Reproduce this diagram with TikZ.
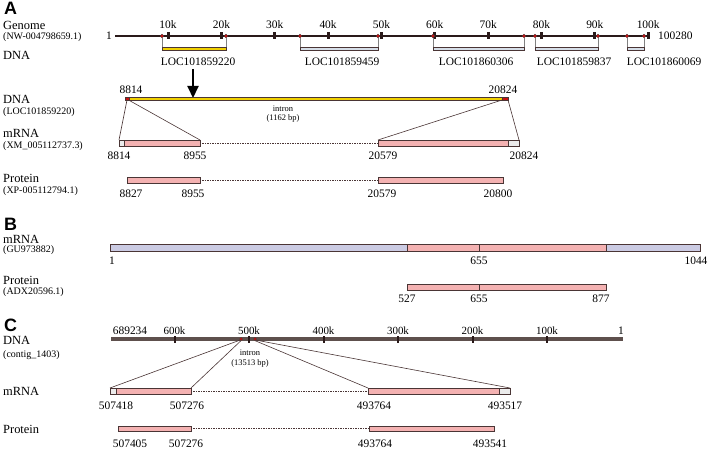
\documentclass[tikz,border=0pt]{standalone}
\usepackage{fontspec}
\setmainfont{Liberation Serif}
\newfontfamily\panelfont{Liberation Sans}
\usetikzlibrary{arrows.meta}

\definecolor{cdspink}{HTML}{F4B2B2}
\definecolor{utrgray}{HTML}{ECECEC}
\definecolor{utrblue}{HTML}{CBCBE3}
\definecolor{geneyellow}{HTML}{F0D000}
\definecolor{genegray}{HTML}{D6DEE8}
\definecolor{barline}{HTML}{4A3535}
\definecolor{chrom}{HTML}{2A1A1A}
\definecolor{contig}{HTML}{5E504D}
\definecolor{exonred}{HTML}{C81010}

\begin{document}
\begin{tikzpicture}[
		x=1bp, y=-1bp,
		every node/.style={inner sep=0pt, font=\fontsize{11.5}{12}\selectfont},
		lab/.style={anchor=base west, font=\fontsize{12.5}{13}\selectfont},
		acc/.style={anchor=base west, font=\fontsize{10}{11}\selectfont},
		num/.style={anchor=base},
		small/.style={anchor=base, font=\fontsize{8.5}{9}\selectfont},
		panel/.style={anchor=base west, font=\panelfont\bfseries\fontsize{18}{18}\selectfont},
		bar/.style={draw=barline, line width=0.7pt},
		cds/.style={bar, fill=cdspink},
		utr/.style={bar, fill=utrgray},
		utrb/.style={bar, fill=utrblue},
		gap/.style={draw=barline, line width=0.6pt, dash pattern=on 1.5pt off 1pt},
		link/.style={draw=barline, line width=0.6pt},
		exon/.style={circle, fill=exonred, draw=barline, line width=0.3pt, minimum size=3.6bp},
		gtick/.style={fill=chrom, minimum width=3bp, minimum height=7bp},
		ctick/.style={fill=chrom, minimum width=2bp, minimum height=7bp}
	]
  \useasboundingbox (0,0) rectangle (709,449);

  \node (pa) [panel] at (4,15) {A};
  \node (genome) [lab] at (3,30) {Genome};
  \node (nw) [acc] at (3,40) {(NW-004798659.1)};
  \node (dna1) [lab] at (3,60) {DNA};

  \coordinate (g0) at (115,36);
  \coordinate (gend) at (649.6,36);
  \draw [chrom, line width=3pt] (g0) -- (gend);
  \node (gone) [anchor=base east] at (112,40) {1};
  \node (glen) [anchor=base west] at (658,40) {100280};
  \foreach \k in {1,...,10} {
    \node (gk\k) [gtick] at (114.7+53.35*\k,36) {};
    \node (gl\k) [num] at (114.7+53.35*\k,29) {\k0k};
  }
  \foreach \a/\b/\col/\lx/\gene in {162/226/geneyellow/198/LOC101859220,
      300/378/genegray/342/LOC101859459, 433/524/genegray/476/LOC101860306,
      535/598/genegray/574/LOC101859837, 627/644/genegray/664/LOC101860069} {
    \coordinate (\gene c) at (\a,49);
    \coordinate (\gene d) at (\b,49);
    \node (\gene a) [exon] at (\a,36) {};
    \node (\gene b) [exon] at (\b,36) {};
    \draw [gray, line width=0.6pt] (\gene a) -- (\gene c);
    \draw [gray, line width=0.6pt] (\gene b) -- (\gene d);
    \filldraw [fill=\col, draw=barline, line width=0.4pt] (\a,47.7) rectangle (\b,50.5);
    \node (\gene) [num] at (\lx,66) {\gene};
  }

  \coordinate (arrtop) at (193,69);
  \coordinate (arrtip) at (193,98);
  \draw [-{Triangle[width=11bp,length=12bp]}, line width=2pt] (arrtop) -- (arrtip);

  \node (dna2) [lab] at (3,104) {DNA};
  \node (loc) [acc] at (3,115) {(LOC101859220)};
  \filldraw [fill=geneyellow, draw=barline, line width=0.5pt] (127,97.6) rectangle (502,100.4);
  \filldraw [fill=exonred, draw=barline, line width=0.4pt] (502,97.6) rectangle (508,100.4);
  \filldraw [fill=exonred, draw=barline, line width=0.4pt] (125.5,97.6) rectangle (129,100.4);
  \node (d1s) [num] at (131,94) {8814};
  \node (d1e) [num] at (503,94) {20824};
  \node (in1) [small] at (283,112) {intron};
  \node (in1bp) [small] at (283,121) {(1162 bp)};

  \coordinate (e1l) at (127,100);
  \coordinate (e1r) at (128.5,100);
  \coordinate (e2l) at (502,100);
  \coordinate (e2r) at (508,100);
  \coordinate (m1l) at (119,140);
  \coordinate (m1r) at (200,140);
  \coordinate (m2l) at (378,140);
  \coordinate (m2r) at (519,140);
  \draw [link] (e1l) -- (m1l);
  \draw [link] (e1r) -- (m1r);
  \draw [link] (e2l) -- (m2l);
  \draw [link] (e2r) -- (m2r);

  \node (mrna1) [lab] at (3,138) {mRNA};
  \node (xm) [acc] at (3,149) {(XM\_005112737.3)};
  \draw [gap] (200,143) -- (378,143);
  \draw [utr] (119,140) rectangle (124,146);
  \draw [cds] (124,140) rectangle (200,146);
  \draw [cds] (378,140) rectangle (508,146);
  \draw [utr] (508,140) rectangle (519,146);
  \foreach \x/\t [count=\i] in {119/8814, 195/8955, 383/20579, 524/20824}
    \node (ma\i) [num] at (\x,160) {\t};

  \node (prot1) [lab] at (3,183) {Protein};
  \node (xp) [acc] at (3,194) {(XP-005112794.1)};
  \draw [gap] (200,180) -- (378,180);
  \draw [cds] (127,177) rectangle (200,183);
  \draw [cds] (378,177) rectangle (503,183);
  \foreach \x/\t [count=\i] in {131/8827, 193/8955, 382/20579, 498/20800}
    \node (pa\i) [num] at (\x,198) {\t};

  \node (pb) [panel] at (4,231) {B};
  \node (mrna2) [lab] at (3,244) {mRNA};
  \node (gu) [acc] at (3,253) {(GU973882)};
  \draw [utrb] (110,244) rectangle (407,251);
  \draw [cds] (407,244) rectangle (479,251);
  \draw [cds] (479,244) rectangle (606,251);
  \draw [utrb] (606,244) rectangle (700,251);
  \foreach \x/\t [count=\i] in {112/1, 479/655, 696/1044}
    \node (mb\i) [num] at (\x,265) {\t};

  \node (prot2) [lab] at (3,285) {Protein};
  \node (adx) [acc] at (3,295) {(ADX20596.1)};
  \draw [cds] (407,284) rectangle (479,290);
  \draw [cds] (479,284) rectangle (606,290);
  \foreach \x/\t [count=\i] in {407/527, 479/655, 601/877}
    \node (pb\i) [num] at (\x,303) {\t};

  \node (pc) [panel] at (4,332) {C};
  \node (dna3) [lab] at (3,345) {DNA};
  \node (contig) [acc] at (3,357) {(contig\_1403)};
  \coordinate (c0) at (111,339);
  \coordinate (cend) at (623,339);
  \draw [contig, line width=4pt] (c0) -- (cend);
  \node (cl0) [num] at (130,335) {689234};
  \node (clend) [num] at (621,335) {1};
  \foreach \k in {1,...,6} {
    \node (ck\k) [ctick] at (621.5-74.5*\k,339) {};
    \node (cl\k) [num, font=\fontsize{11}{11}\selectfont] at (621.5-74.5*\k,335) {\k00k};
  }
  \node (cx1) [exon, minimum size=3bp] at (241,339) {};
  \node (cx2) [exon, minimum size=3bp] at (255,339) {};
  \node (in2) [small] at (250,355) {intron};
  \node (in2bp) [small] at (250,365) {(13513 bp)};

  \coordinate (n1l) at (110,388);
  \coordinate (n1r) at (191,388);
  \coordinate (n2l) at (368,388);
  \coordinate (n2r) at (510,388);
  \draw [link] (cx1.south west) -- (n1l);
  \draw [link] (cx1.south) -- (n1r);
  \draw [link] (cx2.south) -- (n2l);
  \draw [link] (cx2.south east) -- (n2r);

  \node (mrna3) [lab] at (3,395) {mRNA};
  \draw [gap] (191,391) -- (368,391);
  \draw [utr] (110,388) rectangle (116,394);
  \draw [cds] (116,388) rectangle (191,394);
  \draw [cds] (368,388) rectangle (499,394);
  \draw [utr] (499,388) rectangle (510,394);
  \foreach \x/\t [count=\i] in {116/507418, 187/507276, 374/493764, 505/493517}
    \node (mc\i) [num] at (\x,409) {\t};

  \node (prot3) [lab] at (3,433) {Protein};
  \draw [gap] (191,428.5) -- (369,428.5);
  \draw [cds] (118,426) rectangle (191,431);
  \draw [cds] (369,426) rectangle (494,431);
  \foreach \x/\t [count=\i] in {130/507405, 186/507276, 375/493764, 490/493541}
    \node (pc\i) [num] at (\x,447) {\t};
\end{tikzpicture}
\end{document}
